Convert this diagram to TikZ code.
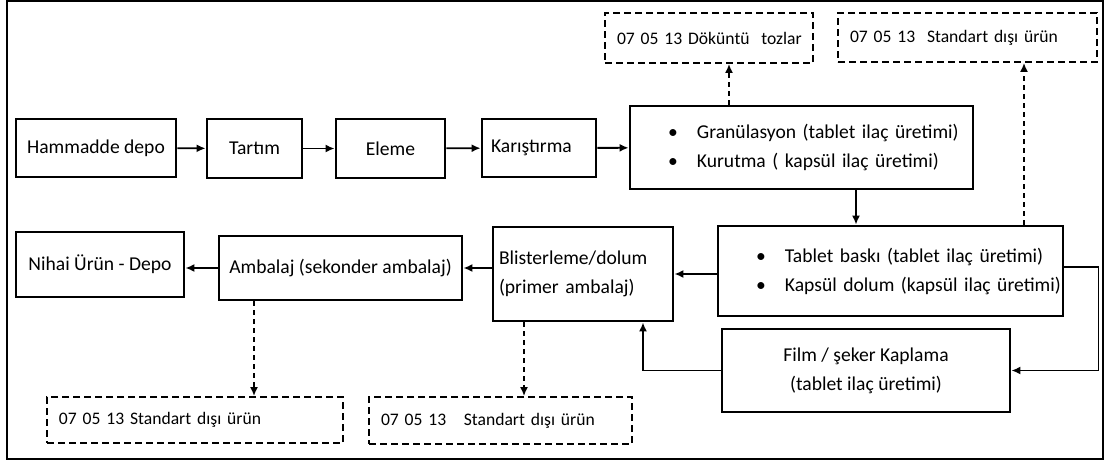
\documentclass[tikz,border=0pt]{standalone}
\usepackage{fontspec}
\setmainfont{Carlito}
\usepackage{tikz}
\usetikzlibrary{arrows.meta}

\newcommand{\itembul}{\hspace*{19pt}\textbullet\hspace{9.6pt}}

\begin{document}
\begin{tikzpicture}[
  x=0.5pt, y=-0.5pt,
  font=\fontsize{9.8}{14.5}\selectfont,
  block/.style={draw, line width=1.4pt, fill=white, inner sep=2pt, align=center},
  leftblock/.style={block, align=left, inner ysep=2pt},
  waste/.style={draw, line width=0.9pt, dash pattern=on 3.5pt off 2pt,
    inner xsep=6pt, inner ysep=2pt, align=left,
    font=\fontsize{8.8}{10.5}\selectfont},
  arrow/.style={-{Latex[length=4.5pt,width=4pt]}, line width=0.9pt},
  dasharrow/.style={arrow, dash pattern=on 2.5pt off 2pt}
]

\useasboundingbox (0,0) rectangle (1105,461);
\draw[line width=1pt] (7,1) rectangle (1103,459);

% top row
\node[block, minimum width=80pt, minimum height=29pt] (hamm) at (96,148) {Hammadde depo};
\node[block, minimum width=47.5pt, minimum height=29.5pt] (tartim) at (254.5,148.5) {Tartım};
\node[block, minimum width=54.5pt, minimum height=29.5pt] (eleme) at (390.5,148.5) {Eleme};
\node[leftblock, inner xsep=4.5pt, text width=48pt, minimum height=29pt] (karis) at (539,148) {Karıştırma};
\node[leftblock, inner xsep=0pt, text width=171.5pt, minimum height=41.5pt] (granul) at (801.5,147.5)
  {\itembul Granülasyon (tablet ilaç üretimi)\\\itembul Kurutma ( kapsül ilaç üretimi)};

% middle row
\node[leftblock, inner xsep=0pt, text width=172.5pt, minimum height=45pt] (tablet) at (890.5,271)
  {\itembul Tablet baskı (tablet ilaç üretimi)\\\itembul Kapsül dolum (kapsül ilaç üretimi)};
\node[leftblock, inner xsep=3pt, text width=84pt, minimum height=47pt] (blister) at (583,274)
  {Blisterleme/dolum\\(primer ambalaj)};
\node[block, minimum width=121.5pt, minimum height=32pt] (ambalaj) at (340.5,268) {Ambalaj (sekonder ambalaj)};
\node[block, minimum width=84pt, minimum height=32.5pt] (nihai) at (100,264.5) {Nihai Ürün - Depo};
\node[block, minimum width=144pt, minimum height=41.5pt] (film) at (866,370.5)
  {Film / şeker Kaplama\\(tablet ilaç üretimi)};

% waste
\node[waste, text width=92pt, minimum height=25pt] (dokuntu) at (709,38) {\mbox{07 05 13 Döküntü\ \ tozlar}};
\node[waste, text width=117.5pt, minimum height=24.5pt] (stdtop) at (967.5,37.5) {07 05 13~ Standart dışı ürün};
\node[waste, text width=136pt, minimum height=23pt] (stdamb) at (195,420) {07 05 13 Standart dışı ürün};
\node[waste, text width=119.5pt, minimum height=23.5pt] (stdbli) at (500.5,420.5) {07 05 13~~ Standart dışı ürün};

\draw[arrow] (hamm) -- (tartim);
\draw[arrow] (tartim) -- (eleme);
\draw[arrow] (eleme) -- (karis);
\draw[arrow] (karis) -- (granul);
\draw[arrow] ([xshift=27.25pt]granul.south) -- ([xshift=27.25pt]granul.south |- tablet.north);
\draw[arrow] (tablet.west |- blister.east) -- (blister.east);
\draw[arrow] (blister.west |- ambalaj.east) -- (ambalaj.east);
\draw[arrow] (ambalaj.west) -- (nihai.east |- ambalaj.west);
\draw[arrow] ([yshift=2pt]tablet.east) -- ++(34,0) |- (film.east);
\draw[arrow] (film.west) -| ([xshift=30pt]blister.south);

\draw[dasharrow] ([xshift=-36.25pt]granul.north) -- ([xshift=-36.25pt]granul.north |- dokuntu.south);
\draw[dasharrow] ([xshift=66.75pt]tablet.north) -- ([xshift=66.75pt]tablet.north |- stdtop.south);
\draw[dasharrow] ([xshift=-43.25pt]ambalaj.south) -- ([xshift=-43.25pt]ambalaj.south |- stdamb.north);
\draw[dasharrow] ([xshift=-29.5pt]blister.south) -- ([xshift=-29.5pt]blister.south |- stdbli.north);

\end{tikzpicture}
\end{document}
